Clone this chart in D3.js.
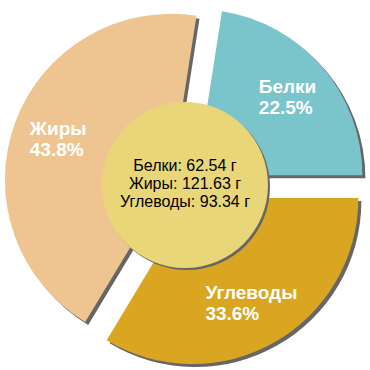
<!DOCTYPE html>
<html><head><meta charset="utf-8">
<script src="https://cdn.jsdelivr.net/npm/d3@7"></script>
<style>html,body{margin:0;padding:0;background:#fff;}svg{display:block;}</style>
</head><body>
<svg id="c" width="370" height="370"></svg>
<script>
const categories = ["Белки", "Жиры", "Углеводы"];
const grams = [62.54, 121.63, 93.34];
const colors = ["#7AC4CC", "#EEC591", "#DAA520"];
const unit = "г";

const W = 370, H = 370, cx = 185, cy = 185;
const R = 166, innerR = 83, explode = 15, shadowOff = 3;
const svg = d3.select("#c");
const g = svg.append("g").attr("transform", `translate(${cx},${cy})`);

const data = categories.map((c, i) => ({name: c, value: grams[i], color: colors[i]}));
const total = d3.sum(grams);
const pie = d3.pie().sort(null).value(d => d.value)
  .startAngle(Math.PI / 2).endAngle(Math.PI / 2 - 2 * Math.PI);
const arcs = pie(data);
const arc = d3.arc().innerRadius(0).outerRadius(R);
const offs = a => {
  const m = (a.startAngle + a.endAngle) / 2;
  return [Math.sin(m) * explode, -Math.cos(m) * explode];
};

// shadows
g.selectAll("path.sh").data(arcs).join("path").attr("class", "sh")
  .attr("d", arc).attr("fill", "#666")
  .attr("transform", a => { const o = offs(a); return `translate(${o[0] + shadowOff},${o[1] + shadowOff})`; });
// slices
g.selectAll("path.sl").data(arcs).join("path").attr("class", "sl")
  .attr("d", arc).attr("fill", a => a.data.color)
  .attr("transform", a => { const o = offs(a); return `translate(${o[0]},${o[1]})`; });

// slice labels
const fmt = d3.format(".1%");
arcs.forEach(a => {
  const o = offs(a);
  const m = (a.startAngle + a.endAngle) / 2;
  const lr = 120;
  const px = o[0] + Math.sin(m) * lr, py = o[1] - Math.cos(m) * lr;
  const t = g.append("text").attr("fill", "#fff").attr("font-family", "Liberation Sans, Arial, sans-serif")
    .attr("font-weight", "bold").attr("font-size", 19);
  const l1 = t.append("tspan").text(a.data.name);
  const l2 = t.append("tspan").text(fmt(a.data.value / total));
  const w = Math.max(l1.node().getComputedTextLength(), l2.node().getComputedTextLength());
  const x0 = px - w / 2;
  l1.attr("x", x0).attr("y", py - 4);
  l2.attr("x", x0).attr("y", py + 17);
});

// center circle
g.append("circle").attr("cx", 2).attr("cy", 2).attr("r", innerR).attr("fill", "#666");
g.append("circle").attr("r", innerR).attr("fill", "#E8D678");
const ct = g.append("text").attr("text-anchor", "middle").attr("fill", "#000")
  .attr("font-family", "Liberation Sans, Arial, sans-serif").attr("font-size", 16);
categories.forEach((c, i) => {
  ct.append("tspan").attr("x", 0).attr("y", -14 + i * 18).text(`${c}: ${grams[i]} ${unit}`);
});
</script>
</body></html>
